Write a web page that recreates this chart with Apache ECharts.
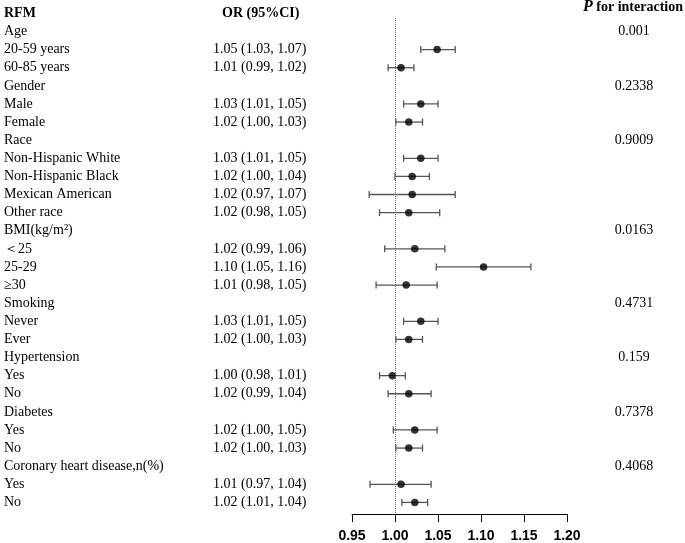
<!DOCTYPE html>
<html>
<head>
<meta charset="utf-8">
<script src="https://cdn.jsdelivr.net/npm/echarts@6/dist/echarts.min.js"></script>
<style>
  html, body { margin: 0; padding: 0; background: #fff; }
  #main { width: 685px; height: 543px; }
</style>
</head>
<body>
<div id="main"></div>
<script>
// rows of the forest plot, top to bottom (headers have no estimate)
var rowLabels = ['Age', '20-59 years', '60-85 years', 'Gender', 'Male', 'Female',
  'Race', 'Non-Hispanic White', 'Non-Hispanic Black', 'Mexican American', 'Other race',
  'BMI(kg/m²)', '＜25', '25-29', '≥30', 'Smoking', 'Never', 'Ever',
  'Hypertension', 'Yes', 'No', 'Diabetes', 'Yes', 'No',
  'Coronary heart disease,n(%)', 'Yes', 'No'];
var orText = ['', '1.05 (1.03, 1.07)', '1.01 (0.99, 1.02)', '', '1.03 (1.01, 1.05)', '1.02 (1.00, 1.03)',
  '', '1.03 (1.01, 1.05)', '1.02 (1.00, 1.04)', '1.02 (0.97, 1.07)', '1.02 (0.98, 1.05)',
  '', '1.02 (0.99, 1.06)', '1.10 (1.05, 1.16)', '1.01 (0.98, 1.05)', '', '1.03 (1.01, 1.05)', '1.02 (1.00, 1.03)',
  '', '1.00 (0.98, 1.01)', '1.02 (0.99, 1.04)', '', '1.02 (1.00, 1.05)', '1.02 (1.00, 1.03)',
  '', '1.01 (0.97, 1.04)', '1.02 (1.01, 1.04)'];
var estimate = [null, 1.049, 1.007, null, 1.030, 1.016,
  null, 1.030, 1.020, 1.020, 1.016,
  null, 1.023, 1.103, 1.013, null, 1.030, 1.016,
  null, 0.997, 1.016, null, 1.023, 1.016,
  null, 1.007, 1.023];
var lower = [null, 1.030, 0.992, null, 1.010, 1.001,
  null, 1.010, 1.000, 0.970, 0.982,
  null, 0.988, 1.048, 0.978, null, 1.010, 1.001,
  null, 0.982, 0.992, null, 0.998, 1.001,
  null, 0.971, 1.008];
var upper = [null, 1.070, 1.022, null, 1.050, 1.032,
  null, 1.050, 1.040, 1.070, 1.052,
  null, 1.058, 1.158, 1.049, null, 1.050, 1.032,
  null, 1.012, 1.042, null, 1.049, 1.032,
  null, 1.042, 1.038];
var pRows = [0, 3, 6, 11, 15, 18, 21, 24];
var pValues = ['0.001', '0.2338', '0.9009', '0.0163', '0.4731', '0.159', '0.7378', '0.4068'];
var xMin = 0.95, xMax = 1.20, xStep = 0.05;

var serif = '"Liberation Serif", "Times New Roman", serif';
var rowIdx = rowLabels.map(function (_, i) { return i; });

var pointData = [], barData = [];
for (var i = 0; i < rowLabels.length; i++) {
  if (estimate[i] == null) continue;
  pointData.push([estimate[i], i]);
  barData.push([lower[i], upper[i], i]);
}
var pMap = {};
pRows.forEach(function (r, k) { pMap[r] = pValues[k]; });

var chart = echarts.init(document.getElementById('main'));
chart.setOption({
  animation: false,
  backgroundColor: '#fff',
  grid: { left: 352, right: 118, top: 18, bottom: 23, containLabel: false },
  graphic: [
    { type: 'text', left: 4, top: 6, style: { text: 'RFM', font: 'bold 14px ' + serif, fill: '#000' } },
    { type: 'text', left: 222, top: 6, style: { text: 'OR (95%CI)', font: 'bold 14px ' + serif, fill: '#000' } },
    { type: 'text', left: 583, top: -1, style: {
        text: '{p|P}{t| for interaction}',
        rich: {
          p: { fontFamily: serif, fontWeight: 'bold', fontStyle: 'italic', fontSize: 16, fill: '#000' },
          t: { fontFamily: serif, fontWeight: 'bold', fontSize: 14, fill: '#000' }
        }
    } }
  ],
  xAxis: {
    type: 'value', min: xMin, max: xMax, interval: xStep, position: 'bottom',
    axisLine: { show: true, onZero: false, lineStyle: { color: '#000', width: 1 } },
    axisTick: { show: true, length: 8, lineStyle: { color: '#000' } },
    splitLine: { show: false },
    axisLabel: {
      margin: 15, color: '#000', fontSize: 14, fontWeight: 'bold', fontFamily: '"Liberation Sans", Arial, sans-serif',
      formatter: function (v) { return v.toFixed(2); }
    }
  },
  yAxis: [{
    type: 'value', inverse: true, min: -0.746, max: 26.64, position: 'left',
    axisLine: { show: false }, axisTick: { show: false }, splitLine: { show: false },
    axisLabel: {
      customValues: rowIdx,
      margin: 348, align: 'left',
      formatter: function (v) {
        var s = '{n|' + rowLabels[v] + '}';
        if (orText[v]) s += '{o|' + orText[v] + '}';
        return s;
      },
      rich: {
        n: { width: 209, fontFamily: serif, fontSize: 14, color: '#000' },
        o: { fontFamily: serif, fontSize: 14, color: '#000' }
      }
    }
  }, {
    type: 'value', inverse: true, min: -0.746, max: 26.64, position: 'right',
    axisLine: { show: false }, axisTick: { show: false }, splitLine: { show: false },
    axisLabel: {
      customValues: pRows,
      margin: 67, align: 'center', padding: [0, 0, 8, 0],
      fontFamily: serif, fontSize: 14, color: '#000',
      formatter: function (v) { return pMap[v] || ''; }
    }
  }],
  series: [{
    type: 'custom',
    yAxisIndex: 0,
    data: barData,
    encode: { x: [0, 1], y: 2 },
    renderItem: function (params, api) {
      var y = api.value(2);
      var a = api.coord([api.value(0), y]);
      var b = api.coord([api.value(1), y]);
      var h = 3.5;
      var st = { stroke: '#555', lineWidth: 1.3 };
      return {
        type: 'group',
        children: [
          { type: 'line', shape: { x1: a[0], y1: a[1], x2: b[0], y2: b[1] }, style: st },
          { type: 'line', shape: { x1: a[0], y1: a[1] - h, x2: a[0], y2: a[1] + h }, style: st },
          { type: 'line', shape: { x1: b[0], y1: b[1] - h, x2: b[0], y2: b[1] + h }, style: st }
        ]
      };
    },
    z: 2
  }, {
    type: 'scatter',
    yAxisIndex: 0,
    data: pointData,
    symbol: 'circle',
    symbolSize: 7.5,
    itemStyle: { color: '#000' },
    z: 3,
    markLine: {
      silent: true,
      symbol: 'none',
      label: { show: false },
      lineStyle: { type: 'dotted', color: '#666', width: 1 },
      data: [{ xAxis: 1 }]
    }
  }]
});
</script>
</body>
</html>
